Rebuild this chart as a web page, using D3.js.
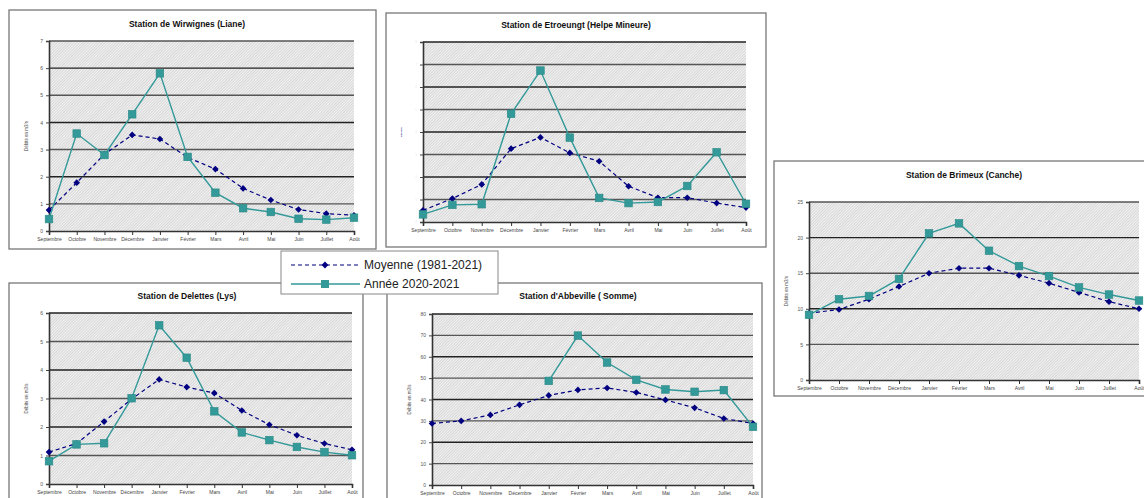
<!DOCTYPE html>
<html><head><meta charset="utf-8">
<script src="https://cdn.jsdelivr.net/npm/d3@7/dist/d3.min.js"></script>
<style>body{margin:0;background:#fff;}svg{display:block;font-family:"Liberation Sans",Arial,sans-serif;}</style>
</head><body><svg id="c" width="1144" height="498"></svg>
<script>
const months = ["Septembre","Octobre","Novembre","Décembre","Janvier","Février","Mars","Avril","Mai","Juin","Juillet","Août"];
const seriesNames = ["Moyenne (1981-2021)","Année 2020-2021"];

const wirwignesMoy   = [0.77,1.78,2.83,3.54,3.39,2.71,2.28,1.57,1.14,0.79,0.64,0.58];
const wirwignesAnnee = [0.44,3.59,2.80,4.30,5.81,2.73,1.41,0.84,0.70,0.45,0.42,0.49];
const etroeungtMoy   = [0.52,1.04,1.67,3.26,3.76,3.07,2.70,1.59,1.08,1.08,0.84,0.64];
const etroeungtAnnee = [0.34,0.76,0.79,4.81,6.73,3.75,1.07,0.84,0.89,1.60,3.10,0.81];
const brimeuxMoy     = [9.38,9.9,11.35,13.13,15.0,15.7,15.7,14.7,13.6,12.3,11.0,10.0];
const brimeuxAnnee   = [9.15,11.35,11.8,14.2,20.6,22.0,18.15,16.0,14.6,13.0,12.0,11.16];
const delettesMoy    = [1.12,1.42,2.19,2.98,3.67,3.40,3.19,2.58,2.08,1.71,1.42,1.20];
const delettesAnnee  = [0.80,1.39,1.43,3.01,5.57,4.43,2.55,1.81,1.54,1.30,1.12,1.01];
const abbevilleMoy   = [28.8,30.0,32.8,37.5,41.9,44.5,45.4,43.3,39.8,36.1,31.1,28.8];
const abbevilleAnnee = [null,null,null,null,48.7,69.9,57.3,49.2,44.7,43.6,44.4,27.2];

const ticksWirwignes = [0,1,2,3,4,5,6,7];
const ticksEtroeungt = [0,1,2,3,4,5,6,7,8];
const ticksBrimeux   = [0,5,10,15,20,25];
const ticksDelettes  = [0,1,2,3,4,5,6];
const ticksAbbeville = [0,10,20,30,40,50,60,70,80];

const titles = ["Station de Wirwignes (Liane)","Station de Etroeungt (Helpe Mineure)","Station de Brimeux (Canche)","Station de Delettes (Lys)","Station d'Abbeville ( Somme)"];
const yLabel = "Débits en m3/s";

const panels = [
  {title:titles[0], moy:wirwignesMoy, an:wirwignesAnnee, ticks:ticksWirwignes, frame:[9,10,376,249], plot:[49,41,354,231], ty:27, tx:187, yl:true, lblCol:"#555"},
  {title:titles[1], moy:etroeungtMoy, an:etroeungtAnnee, ticks:ticksEtroeungt, frame:[386,13,766,247], plot:[423,42,746,222], ty:28, tx:576, yl:false, lblCol:"#f4dce8"},
  {title:titles[2], moy:brimeuxMoy, an:brimeuxAnnee, ticks:ticksBrimeux, frame:[774,161,1160,396], plot:[809,202,1139,380], ty:178, tx:964, yl:true, lblCol:"#555"},
  {title:titles[3], moy:delettesMoy, an:delettesAnnee, ticks:ticksDelettes, frame:[9,283,363,510], plot:[49,313,352,484], ty:299, tx:187, yl:true, lblCol:"#555"},
  {title:titles[4], moy:abbevilleMoy, an:abbevilleAnnee, ticks:ticksAbbeville, frame:[387,283,762,510], plot:[432,314,753,485], ty:299, tx:578, yl:true, lblCol:"#555"}
];

const svg = d3.select("#c");
const defs = svg.append("defs");
const pat = defs.append("pattern").attr("id","hatch").attr("patternUnits","userSpaceOnUse")
  .attr("width",2).attr("height",2).attr("patternTransform","rotate(45)");
pat.append("rect").attr("width",2).attr("height",2).attr("fill","#f3f3f3");
pat.append("rect").attr("width",0.8).attr("height",2).attr("fill","#cfcfcf");

const navy = "#000080", teal = "#339999";

function drawPanel(p){
  const g = svg.append("g");
  const [fx0,fy0,fx1,fy1] = p.frame;
  g.append("rect").attr("x",fx0).attr("y",fy0).attr("width",fx1-fx0).attr("height",fy1-fy0)
    .attr("fill","#fff").attr("stroke","#777").attr("stroke-width",1.3);
  const [px0,py0,px1,py1] = p.plot;
  const x = d3.scalePoint().domain(months).range([px0,px1]).padding(0);
  const ymax = p.ticks[p.ticks.length-1];
  const y = d3.scaleLinear().domain([0,ymax]).range([py1,py0]);
  g.append("rect").attr("x",px0).attr("y",py0).attr("width",px1-px0).attr("height",py1-py0).attr("fill","url(#hatch)");
  g.append("g").selectAll("line").data(p.ticks.filter(t=>t>0)).join("line")
    .attr("x1",px0).attr("x2",px1).attr("y1",d=>y(d)).attr("y2",d=>y(d))
    .attr("stroke",(d,i)=>i%2? "#222":"#555").attr("stroke-width",1.4);
  const ya = d3.axisLeft(y).tickValues(p.ticks).tickSize(3).tickPadding(3).tickFormat(d3.format("d"));
  const yg = g.append("g").attr("transform",`translate(${px0},0)`).call(ya);
  yg.select(".domain").attr("stroke","#333").attr("stroke-width",1.6);
  yg.selectAll(".tick line").attr("stroke","#444");
  yg.selectAll("text").attr("font-size",p.yl?5:3).attr("fill",p.lblCol).attr("font-family","Liberation Sans, Arial");
  const xa = d3.axisBottom(x).tickSize(4).tickPadding(2);
  const xg = g.append("g").attr("transform",`translate(0,${py1})`).call(xa);
  xg.select(".domain").attr("stroke","#333").attr("stroke-width",1.6);
  xg.selectAll(".tick line").attr("stroke","#333");
  xg.selectAll("text").attr("font-size",5).attr("fill","#444").attr("font-family","Liberation Sans, Arial");
  g.append("text").attr("x",p.tx).attr("y",p.ty).attr("text-anchor","middle")
    .attr("font-size",8.5).attr("font-weight","bold").attr("fill","#111").text(p.title);
  const lx = px0-21, ly = (py0+py1)/2;
  g.append("text").attr("transform",`translate(${lx},${ly}) rotate(-90)`).attr("text-anchor","middle")
    .attr("font-size",p.yl?4.5:1.5).attr("fill",p.yl?"#444":navy).text(yLabel);
  const line = d3.line().defined(d=>d!=null).x((d,i)=>x(months[i])).y(d=>y(d));
  g.append("path").datum(p.moy).attr("d",line).attr("fill","none").attr("stroke",navy)
    .attr("stroke-width",1.2).attr("stroke-dasharray","4,3");
  g.append("g").selectAll("path").data(p.moy.map((v,i)=>[i,v]).filter(d=>d[1]!=null)).join("path")
    .attr("d",d3.symbol(d3.symbolDiamond2,28)).attr("transform",d=>`translate(${x(months[d[0]])},${y(d[1])})`)
    .attr("fill",navy);
  g.append("path").datum(p.an).attr("d",line).attr("fill","none").attr("stroke",teal).attr("stroke-width",1.4);
  g.append("g").selectAll("rect").data(p.an.map((v,i)=>[i,v]).filter(d=>d[1]!=null)).join("rect")
    .attr("x",d=>x(months[d[0]])-3.8).attr("y",d=>y(d[1])-3.8).attr("width",7.6).attr("height",7.6)
    .attr("fill",teal).attr("stroke","#2a8a86").attr("stroke-width",0.6);
}
panels.forEach(drawPanel);

const lg = svg.append("g");
lg.append("rect").attr("x",281).attr("y",251).attr("width",217).attr("height",43).attr("fill","#fff").attr("stroke","#888").attr("stroke-width",1);
lg.append("line").attr("x1",291).attr("x2",360).attr("y1",265).attr("y2",265).attr("stroke",navy).attr("stroke-width",1.2).attr("stroke-dasharray","4,3");
lg.append("path").attr("d",d3.symbol(d3.symbolDiamond2,30)).attr("transform","translate(325,265)").attr("fill",navy);
lg.append("line").attr("x1",291).attr("x2",360).attr("y1",284).attr("y2",284).attr("stroke",teal).attr("stroke-width",1.4);
lg.append("rect").attr("x",321).attr("y",280).attr("width",8).attr("height",8).attr("fill",teal);
lg.selectAll("text.l").data(seriesNames).join("text").attr("x",364).attr("y",(d,i)=>269+i*19)
  .attr("font-size",12).attr("fill","#222").text(d=>d);
</script></body></html>
